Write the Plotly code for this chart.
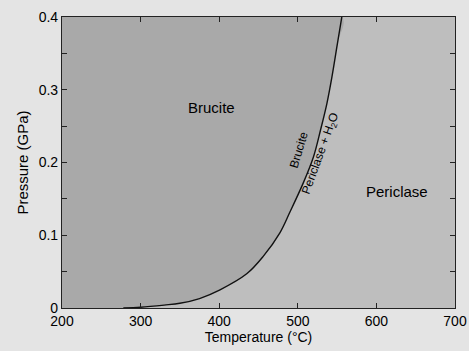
import plotly.graph_objects as go

# Reaction boundary: Brucite = Periclase + H2O
temp_c = [278, 300, 330, 350, 375, 401, 435, 456, 477, 490, 507, 520, 529, 537, 543.5, 550.5, 556]
pressure_gpa = [0, 0.001, 0.004, 0.0065, 0.013, 0.025, 0.047, 0.071, 0.103, 0.132, 0.172, 0.208, 0.245, 0.281, 0.318, 0.364, 0.4]

x_ticks = [200, 300, 400, 500, 600, 700]
x_labels = ["200", "300", "400", "500", "600", "700"]
y_ticks = [0, 0.1, 0.2, 0.3, 0.4]
y_labels = ["0", "0.1", "0.2", "0.3", "0.4"]

T_MIN, T_MAX = 200, 700
P_MIN, P_MAX = 0, 0.4

FONT = "Liberation Sans, Arial, Helvetica, sans-serif"

fig = go.Figure()

# Brucite field (left of curve)
fig.add_trace(go.Scatter(
    x=[T_MIN] + temp_c + [T_MIN, T_MIN],
    y=[P_MIN] + pressure_gpa + [P_MAX, P_MIN],
    fill="toself", fillcolor="#a9a9a9", mode="none",
    line=dict(shape="spline", smoothing=1.0),
    hoverinfo="skip", showlegend=False))

# Boundary curve
fig.add_trace(go.Scatter(
    x=temp_c, y=pressure_gpa, mode="lines",
    line=dict(color="#111111", width=1.4, shape="spline", smoothing=1.0),
    hoverinfo="skip", showlegend=False))

fig.add_annotation(x=390, y=0.275, text="Brucite", showarrow=False,
                   font=dict(family=FONT, size=15, color="#000"))
fig.add_annotation(x=626, y=0.16, text="Periclase", showarrow=False,
                   font=dict(family=FONT, size=15, color="#000"))
fig.add_annotation(x=502, y=0.218, text="Brucite", showarrow=False, textangle=-73,
                   font=dict(family=FONT, size=12, color="#000"))
fig.add_annotation(x=529, y=0.212, text="Periclase + H<sub>2</sub>O", showarrow=False,
                   textangle=-70, font=dict(family=FONT, size=12, color="#000"))

axis_common = dict(
    showgrid=False, zeroline=False, showline=True, linecolor="#222", linewidth=1.2,
    mirror="ticks", ticks="inside", ticklen=5, tickcolor="#222", tickwidth=1,
    tickfont=dict(family=FONT, size=14, color="#000"), automargin=False,
)

fig.update_xaxes(range=[T_MIN, T_MAX], tickvals=x_ticks, ticktext=x_labels,
                 title=dict(text="Temperature (°C)", font=dict(family=FONT, size=14, color="#000"),
                            standoff=2),
                 **axis_common)
fig.update_yaxes(range=[P_MIN, P_MAX], tickvals=y_ticks, ticktext=y_labels,
                 minor=dict(dtick=0.05, ticks="inside", ticklen=5, tickcolor="#222"),
                 title=dict(text="Pressure (GPa)", font=dict(family=FONT, size=15, color="#000"),
                            standoff=6),
                 **axis_common)

fig.update_layout(
    width=469, height=351,
    margin=dict(l=62, r=14, t=17, b=43),
    paper_bgcolor="#e4e4e4", plot_bgcolor="#bebebe",
    font=dict(family=FONT),
)

fig.write_html("out.html", config={"displayModeBar": False},
               post_script="document.body.style.margin='0';document.body.style.padding='0';")
